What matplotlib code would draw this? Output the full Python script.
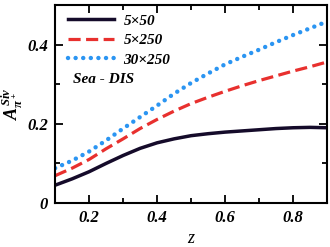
import numpy as np
import matplotlib
matplotlib.use("Agg")
import matplotlib.pyplot as plt
from matplotlib.ticker import MultipleLocator

z = [0.1, 0.15, 0.2, 0.25, 0.3, 0.35, 0.4, 0.45, 0.5, 0.55, 0.6, 0.65, 0.7,
     0.75, 0.8, 0.85, 0.9]
a_5x50 = [0.045, 0.061, 0.079, 0.100, 0.120, 0.138, 0.152, 0.162, 0.170,
          0.175, 0.179, 0.182, 0.185, 0.188, 0.190, 0.191, 0.190]
a_5x250 = [0.069, 0.088, 0.110, 0.137, 0.162, 0.188, 0.211, 0.232, 0.251,
           0.267, 0.282, 0.296, 0.309, 0.321, 0.333, 0.344, 0.356]
a_30x250 = [0.088, 0.107, 0.130, 0.158, 0.188, 0.217, 0.246, 0.276, 0.303,
            0.327, 0.350, 0.369, 0.387, 0.406, 0.424, 0.441, 0.458]
labels = ["5\u00d750", "5\u00d7250", "30\u00d7250"]

plt.rcParams["font.family"] = "Liberation Serif"
plt.rcParams["font.weight"] = "bold"
plt.rcParams["font.style"] = "italic"
plt.rcParams["mathtext.fontset"] = "custom"
plt.rcParams["mathtext.it"] = "Liberation Serif:italic:bold"
plt.rcParams["mathtext.rm"] = "Liberation Serif:italic:bold"

fig = plt.figure(figsize=(3.3, 2.47), dpi=100)
ax = fig.add_axes([0.167, 0.178, 0.824, 0.802])

ax.plot(z, a_5x50, color="#150b2a", lw=2.5, label=labels[0])
ax.plot(z, a_5x250, color="#e8302e", lw=2.3, ls=(0, (3.8, 1.7)), label=labels[1])
ax.plot(z, a_30x250, color="#2b95f2", lw=3.2, ls=(0, (0.01, 1.7)),
        dash_capstyle="round", label=labels[2])

ax.set_xlim(0.1, 0.9)
ax.set_ylim(0, 0.5)
ax.xaxis.set_minor_locator(MultipleLocator(0.1))
ax.yaxis.set_minor_locator(MultipleLocator(0.1))
ax.set_xticks([0.2, 0.4, 0.6, 0.8])
ax.set_xticklabels(["0.2", "0.4", "0.6", "0.8"])
ax.set_yticks([0, 0.2, 0.4])
ax.set_yticklabels(["0", "0.2", "0.4"])
ax.tick_params(which="both", direction="in", top=True, right=True, width=1.3,
               labelsize=12, pad=5)
ax.tick_params(which="major", length=6)
ax.tick_params(which="minor", length=3.5)
for s in ax.spines.values():
    s.set_linewidth(1.5)

ax.set_xlabel("z", fontsize=13, labelpad=3)
ax.set_ylabel(r"$A_{\pi^+}^{Siv}$", fontsize=13, labelpad=2)

leg = ax.legend(loc="upper left", frameon=False, fontsize=11, handlelength=3.0,
                handletextpad=0.6, labelspacing=0.38, borderaxespad=0.2,
                bbox_to_anchor=(0.015, 1.0))
ax.text(0.065, 0.605, "Sea - DIS", transform=ax.transAxes, fontsize=11)

fig.savefig("out.png", dpi=100)
